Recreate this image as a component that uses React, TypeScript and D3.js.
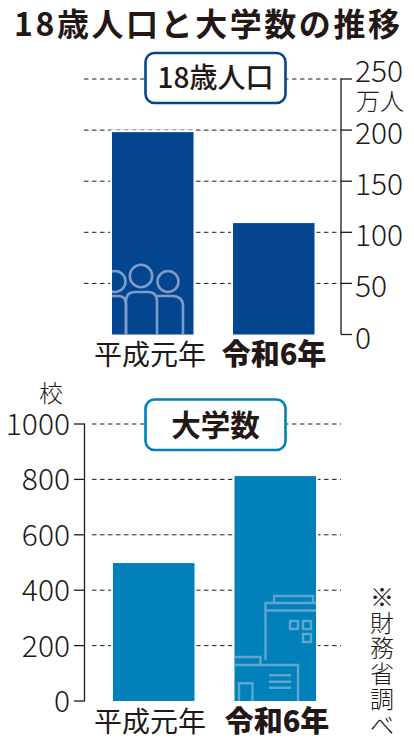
import React from "react";
import * as d3 from "d3";

const title = "18歳人口と大学数の推移";
const categories = ["平成元年", "令和6年"];
const population = [198, 109];
const universities = [498, 812];
const popTicks = [0, 50, 100, 150, 200, 250];
const uniTicks = [0, 200, 400, 600, 800, 1000];
const noteChars = ["※", "財", "務", "省", "調", "べ"];

const NAVY = "#03458f";
const BLUE = "#0180ba";
const INK = "#231815";
const SANS = "'Noto Sans CJK JP','Noto Sans',sans-serif";

const yPop = d3.scaleLinear().domain([0, 250]).range([334.5, 79]);
const yUni = d3.scaleLinear().domain([0, 1000]).range([701, 424]);
const xPop = d3.scaleOrdinal<string, number>().domain(categories).range([112, 233]);
const xUni = d3.scaleOrdinal<string, number>().domain(categories).range([113, 234.5]);
const BW = 81.5;

const People = ({ x, base }: { x: number; base: number }) => (
  <g fill="none" stroke="#7f9cc8" strokeWidth={2.6}>
    <circle cx={x + 3} cy={base - 53} r={10.5} />
    <circle cx={x + 29} cy={base - 58.5} r={11.2} />
    <circle cx={x + 56} cy={base - 53} r={10.5} />
    <path d={`M${x} ${base - 38.5}H${x + 7}Q${x + 14} ${base - 38} ${x + 14} ${base - 30}V${base}`} />
    <path d={`M${x + 14} ${base}V${base - 33}Q${x + 14} ${base - 42.5} ${x + 23} ${base - 42.5}H${x + 36}Q${x + 45} ${base - 42.5} ${x + 45} ${base - 33}V${base}`} />
    <path d={`M${x + 45} ${base - 38.5}H${x + 61}Q${x + 71} ${base - 38} ${x + 71} ${base - 28}V${base}`} />
  </g>
);

const Building = ({ x, base }: { x: number; base: number }) => {
  const r = x + BW;
  return (
    <g fill="none" stroke="#5ea6d0" strokeWidth={2.4}>
      <path d={`M${x + 31} ${base - 41}V${base - 98}H${r}`} />
      <path d={`M${x} ${base - 44}H${x + 26}V${base - 36}`} />
      <path d={`M${x} ${base - 36}H${x + 63.5}V${base}`} />
      <path d={`M${x + 31} ${base - 90.5}H${r}`} />
      <path d={`M${x + 39.5} ${base - 98}V${base - 105}H${x + 78.5}V${base - 98}`} />
      <rect x={x + 55.5} y={base - 80} width={8} height={8} />
      <rect x={x + 68.5} y={base - 80} width={8} height={8} />
      <rect x={x + 68.5} y={base - 67} width={8} height={8} />
      <path d={`M${x + 34.5} ${base - 25.7}H${x + 56.5}M${x + 34.5} ${base - 19.3}H${x + 56.5}M${x + 34.5} ${base - 13.3}H${x + 56.5}`} />
      <path d={`M${x + 4.5} ${base}V${base - 17.7}H${x + 18}V${base}`} />
    </g>
  );
};

export default function App() {
  return (
    <svg
      width={414}
      height={740}
      viewBox="0 0 414 740"
      style={{ position: "absolute", left: 0, top: 0, background: "#fff" }}
      fontFamily={SANS}
    >
      <defs>
        <clipPath id="popClip">
          <rect x={xPop(categories[0])} y={yPop(population[0])} width={BW} height={yPop(0) - yPop(population[0])} />
        </clipPath>
        <clipPath id="uniClip">
          <rect x={xUni(categories[1])} y={yUni(universities[1])} width={BW} height={yUni(0) - yUni(universities[1])} />
        </clipPath>
      </defs>

      <text x={14} y={36} fontSize={32} fontWeight={700} fill={INK} textLength={386} lengthAdjust="spacing">
        {title}
      </text>

      {/* Top chart */}
      {popTicks.slice(1).map((t) => (
        <line key={t} x1={84} x2={341} y1={yPop(t)} y2={yPop(t)} stroke={INK} strokeWidth={1} strokeDasharray="4.5 3.5" />
      ))}
      {population.map((v, i) => (
        <g key={i}>
          <rect x={xPop(categories[i]) - 2} width={BW + 4} y={yPop(v) - 2} height={yPop(0) - yPop(v) + 2} fill="#fff" />
          <rect x={xPop(categories[i])} width={BW} y={yPop(v)} height={yPop(0) - yPop(v)} fill={NAVY} />
        </g>
      ))}
      <g clipPath="url(#popClip)">
        <People x={xPop(categories[0])} base={yPop(0)} />
      </g>
      <line x1={341} x2={341} y1={yPop(250)} y2={yPop(0)} stroke={INK} strokeWidth={1.3} />
      {popTicks.map((t) => (
        <g key={t}>
          <line x1={341} x2={352} y1={yPop(t)} y2={yPop(t)} stroke={INK} strokeWidth={1.3} />
          <text x={355} y={yPop(t) + (t === 250 ? 3 : 14)} fontSize={30} fontWeight={300} fill={INK}>{t}</text>
        </g>
      ))}
      <text x={356} y={110} fontSize={24} fontWeight={300} fill={INK}>万人</text>
      <rect x={145.5} y={53} width={140} height={50} rx={9} fill="#fff" stroke={NAVY} strokeWidth={2.6} />
      <text x={215.5} y={88} textAnchor="middle" fontSize={28} fontWeight={500} fill={INK}>18歳人口</text>
      <text x={150} y={365} textAnchor="middle" fontSize={28} fontWeight={400} fill={INK}>{categories[0]}</text>
      <text x={274} y={365} textAnchor="middle" fontSize={29} fontWeight={900} fill={INK}>{categories[1]}</text>

      {/* Bottom chart */}
      {uniTicks.slice(1).map((t) => (
        <line key={t} x1={92} x2={341} y1={yUni(t)} y2={yUni(t)} stroke={INK} strokeWidth={1} strokeDasharray="4.5 3.5" />
      ))}
      {universities.map((v, i) => (
        <g key={i}>
          <rect x={xUni(categories[i]) - 2} width={BW + 4} y={yUni(v) - 2} height={yUni(0) - yUni(v) + 2} fill="#fff" />
          <rect x={xUni(categories[i])} width={BW} y={yUni(v)} height={yUni(0) - yUni(v)} fill={BLUE} />
        </g>
      ))}
      <g clipPath="url(#uniClip)">
        <Building x={xUni(categories[1])} base={yUni(0)} />
      </g>
      <line x1={84.5} x2={84.5} y1={yUni(1000)} y2={yUni(0)} stroke={INK} strokeWidth={1.3} />
      {uniTicks.map((t) => (
        <g key={t}>
          <line x1={74} x2={85} y1={yUni(t)} y2={yUni(t)} stroke={INK} strokeWidth={1.3} />
          <text x={70} y={yUni(t) + 11} textAnchor="end" fontSize={30} fontWeight={300} fill={INK}>{t}</text>
        </g>
      ))}
      <text x={39} y={402} fontSize={24} fontWeight={300} fill={INK}>校</text>
      <rect x={145.5} y={399.5} width={140} height={50.5} rx={9} fill="#fff" stroke={BLUE} strokeWidth={2.6} />
      <text x={215.5} y={436} textAnchor="middle" fontSize={29.5} fontWeight={700} fill={INK}>大学数</text>
      <text x={150} y={732} textAnchor="middle" fontSize={28} fontWeight={400} fill={INK}>{categories[0]}</text>
      <text x={277} y={732} textAnchor="middle" fontSize={29} fontWeight={900} fill={INK}>{categories[1]}</text>

      {noteChars.map((c, i) => (
        <text key={c} x={382} y={606 + i * 25.6} textAnchor="middle" fontSize={24} fontWeight={300} fill={INK}>{c}</text>
      ))}
    </svg>
  );
}
